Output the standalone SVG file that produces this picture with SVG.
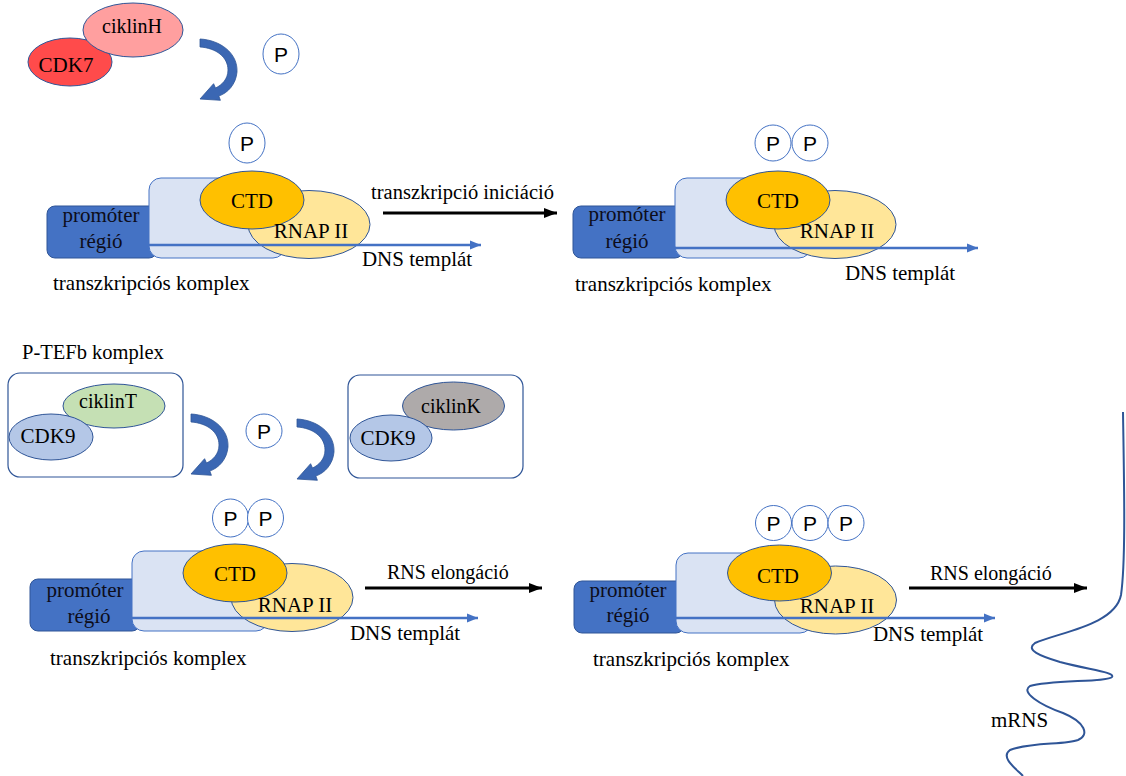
<svg xmlns="http://www.w3.org/2000/svg" width="1126" height="776" viewBox="0 0 1126 776" font-family="Liberation Serif, Times New Roman, serif" font-size="21">
<style>
.pc{fill:#fff;stroke:#4472c4;stroke-width:1}
.prom{fill:#4472c4;stroke:#2f5597;stroke-width:1}
.lb{fill:#dae3f3;stroke:#4472c4;stroke-width:1}
.ctd{fill:#ffc000;stroke:#2f5597;stroke-width:1}
.rnap{fill:#ffe699;stroke:#2f5597;stroke-width:1}
.dns{stroke:#4472c4;stroke-width:2.5;fill:none}
.blk{stroke:#000;stroke-width:3;fill:none}
.box{fill:#fff;stroke:#2f5597;stroke-width:1.2}
.ca{fill:#3b67b3;stroke:#2f5597;stroke-width:0.8}
</style>
<defs>
<marker id="mb" markerUnits="userSpaceOnUse" markerWidth="12" markerHeight="10" refX="11" refY="5" orient="auto">
<path d="M0,0.5 L11,5 L0,9.5 Z" fill="#4472c4"/>
</marker>
<marker id="mk" markerUnits="userSpaceOnUse" markerWidth="14" markerHeight="12" refX="13" refY="6" orient="auto">
<path d="M0,1 L13,6 L0,11 Z" fill="#000"/>
</marker>
<path id="carrow" d="M0,0 C20,1 38,14 37,33 C36,45 28,54 18.8,57 L20.4,61.3 L0,60 L13.6,44.7 L15.5,49 C22,46 28,40 28,31 C28,18 16,9 0,8 Z"/>
</defs>

<g id="cdk7-ciklinH">
<ellipse cx="70" cy="62" rx="42" ry="24" fill="#ff4b4b" stroke="#2f5597"/>
<ellipse cx="133" cy="30" rx="50" ry="27" fill="#ff9f9f" stroke="#2f5597"/>
<text x="132" y="33" font-size="20" text-anchor="middle">ciklinH</text>
<text x="66" y="72" text-anchor="middle">CDK7</text>
</g>
<g id="p-top" font-family="Liberation Sans, Arial, sans-serif" text-anchor="middle">
<ellipse class="pc" cx="281" cy="54" rx="18" ry="20"/>
<text x="281" y="62">P</text>
</g>

<g id="complex1">
<rect class="prom" x="47" y="206" width="110" height="52" rx="8"/>
<rect class="lb" x="149" y="178" width="136" height="80" rx="12"/>
<ellipse class="rnap" cx="309" cy="224.5" rx="61" ry="34"/>
<ellipse class="ctd" cx="252" cy="200" rx="52" ry="29"/>
<g text-anchor="middle" fill="#0d0d1a">
<text x="101" y="222">promóter</text>
<text x="101" y="248">régió</text>
</g>
<text x="252" y="208" text-anchor="middle">CTD</text>
<text x="311" y="238" text-anchor="middle">RNAP II</text>
<g font-family="Liberation Sans, Arial, sans-serif" text-anchor="middle">
<ellipse class="pc" cx="247" cy="143" rx="18" ry="20"/>
<text x="247" y="151">P</text>
</g>
<line class="dns" x1="149" y1="245" x2="481" y2="245" marker-end="url(#mb)"/>
<text x="417" y="266" text-anchor="middle">DNS templát</text>
<text x="53" y="290">transzkripciós komplex</text>
</g>

<g id="complex2">
<rect class="prom" x="573" y="206" width="110" height="52" rx="8"/>
<rect class="lb" x="675" y="178" width="136" height="80" rx="12"/>
<ellipse class="rnap" cx="835" cy="224.5" rx="61" ry="34"/>
<ellipse class="ctd" cx="778" cy="200" rx="52" ry="29"/>
<g text-anchor="middle" fill="#0d0d1a">
<text x="627" y="221">promóter</text>
<text x="627" y="248">régió</text>
</g>
<text x="778" y="208" text-anchor="middle">CTD</text>
<text x="837" y="238" text-anchor="middle">RNAP II</text>
<g font-family="Liberation Sans, Arial, sans-serif" text-anchor="middle">
<ellipse class="pc" cx="773" cy="143" rx="18" ry="18"/>
<text x="773" y="151">P</text>
<ellipse class="pc" cx="810" cy="143" rx="18" ry="18"/>
<text x="810" y="151">P</text>
</g>
<line class="dns" x1="675" y1="248" x2="978" y2="248" marker-end="url(#mb)"/>
<text x="900" y="280" text-anchor="middle">DNS templát</text>
<text x="575" y="291">transzkripciós komplex</text>
</g>

<g id="ptefb-label">
<text x="22" y="359" font-size="20.5">P-TEFb komplex</text>
</g>
<g id="cdk9-ciklinT">
<rect class="box" x="8" y="373" width="175" height="104" rx="12"/>
<ellipse cx="114" cy="406" rx="51" ry="22" fill="#c5e0b4" stroke="#2f5597"/>
<ellipse cx="51" cy="437" rx="42" ry="23" fill="#b4c7e7" stroke="#2f5597"/>
<text x="108" y="408" font-size="20" text-anchor="middle">ciklinT</text>
<text x="48" y="443" text-anchor="middle">CDK9</text>
</g>
<g id="p-mid" font-family="Liberation Sans, Arial, sans-serif" text-anchor="middle">
<ellipse class="pc" cx="264" cy="431" rx="18" ry="17"/>
<text x="264" y="439">P</text>
</g>
<g id="cdk9-ciklinK">
<rect class="box" x="348" y="375" width="175" height="103" rx="12"/>
<ellipse cx="453.5" cy="406" rx="51" ry="24" fill="#aeaaaa" stroke="#2f5597"/>
<ellipse cx="391" cy="438" rx="41" ry="23" fill="#b4c7e7" stroke="#2f5597"/>
<text x="451" y="413" font-size="20" text-anchor="middle">ciklinK</text>
<text x="388" y="445" text-anchor="middle">CDK9</text>
</g>

<g id="complex3">
<rect class="prom" x="30" y="579" width="110" height="52" rx="8"/>
<rect class="lb" x="132" y="551" width="136" height="80" rx="12"/>
<ellipse class="rnap" cx="292" cy="597.5" rx="61" ry="34"/>
<ellipse class="ctd" cx="235" cy="573" rx="52" ry="29"/>
<g text-anchor="middle" fill="#0d0d1a">
<text x="85" y="597">promóter</text>
<text x="89" y="623">régió</text>
</g>
<text x="235" y="581" text-anchor="middle">CTD</text>
<text x="295" y="612" text-anchor="middle">RNAP II</text>
<g font-family="Liberation Sans, Arial, sans-serif" text-anchor="middle">
<ellipse class="pc" cx="230.5" cy="518" rx="18" ry="19"/>
<text x="230.5" y="526">P</text>
<ellipse class="pc" cx="265.5" cy="518" rx="18" ry="19"/>
<text x="265.5" y="526">P</text>
</g>
<line class="dns" x1="132" y1="618" x2="478" y2="618" marker-end="url(#mb)"/>
<text x="405" y="640" text-anchor="middle">DNS templát</text>
<text x="50" y="665">transzkripciós komplex</text>
</g>

<g id="complex4">
<rect class="prom" x="574" y="581" width="110" height="52" rx="8"/>
<rect class="lb" x="676" y="553" width="136" height="80" rx="12"/>
<ellipse class="rnap" cx="835.5" cy="600" rx="61" ry="34"/>
<ellipse class="ctd" cx="779.5" cy="573" rx="52" ry="28"/>
<g text-anchor="middle" fill="#0d0d1a">
<text x="628" y="597">promóter</text>
<text x="628" y="622">régió</text>
</g>
<text x="778" y="583" text-anchor="middle">CTD</text>
<text x="837" y="613" text-anchor="middle">RNAP II</text>
<g font-family="Liberation Sans, Arial, sans-serif" text-anchor="middle">
<ellipse class="pc" cx="773.5" cy="523" rx="18" ry="17.5"/>
<text x="773.5" y="531">P</text>
<ellipse class="pc" cx="810" cy="523" rx="18" ry="17.5"/>
<text x="810" y="531">P</text>
<ellipse class="pc" cx="846" cy="523" rx="18" ry="17.5"/>
<text x="846" y="531">P</text>
</g>
<line class="dns" x1="676" y1="618" x2="995" y2="618" marker-end="url(#mb)"/>
<text x="928" y="641" text-anchor="middle">DNS templát</text>
<text x="593" y="666">transzkripciós komplex</text>
</g>

<g id="mrna">
<path d="M1123,412 C1124,480 1126,560 1121,595 C1115,625 1060,632 1035,643 C1025,650 1040,656 1060,662 C1090,670 1115,672 1112,677 C1108,682 1050,680 1030,686 C1020,692 1040,705 1063,713 C1085,722 1090,735 1078,740 C1065,745 1030,742 1010,750 C1000,757 1015,768 1023,776" fill="none" stroke="#2f5597" stroke-width="2"/>
<text x="991" y="727">mRNS</text>
</g>

<g id="connectors">
<use href="#carrow" class="ca" transform="translate(200,39)"/>
<use href="#carrow" class="ca" transform="translate(191,414)"/>
<use href="#carrow" class="ca" transform="translate(297,419)"/>
<line class="blk" x1="383" y1="213" x2="557" y2="213" marker-end="url(#mk)"/>
<text x="371" y="199" font-size="20.5" textLength="183">transzkripció iniciáció</text>
<line class="blk" x1="365" y1="588" x2="542" y2="588" marker-end="url(#mk)"/>
<text x="387" y="579" font-size="20">RNS elongáció</text>
<line class="blk" x1="909" y1="588" x2="1087" y2="588" marker-end="url(#mk)"/>
<text x="930" y="580" font-size="20">RNS elongáció</text>
</g>
</svg>
